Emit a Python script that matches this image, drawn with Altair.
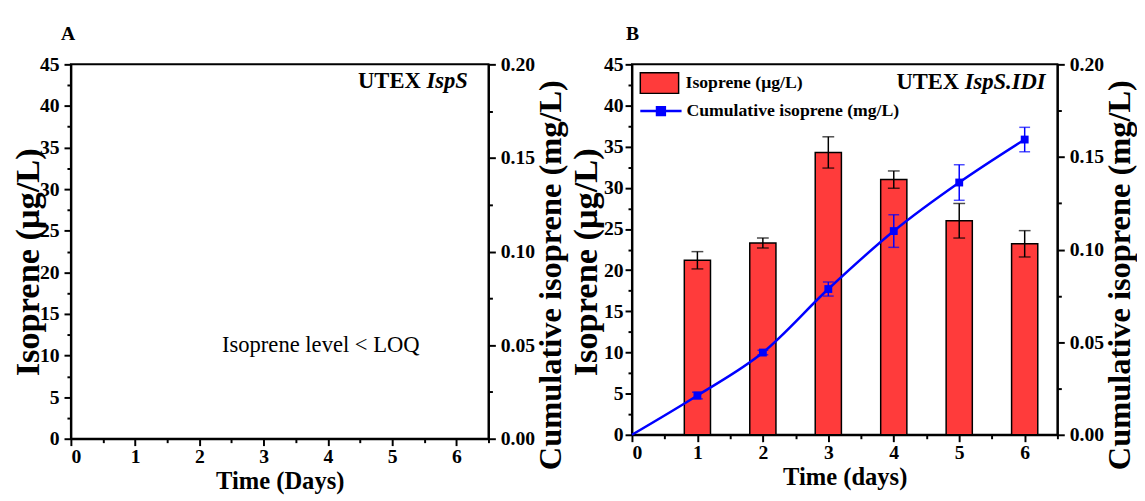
import altair as alt
import pandas as pd

FONT = "Liberation Serif"

# ---- data ----
days = [1, 2, 3, 4, 5, 6]
iso_values = [21.2, 23.3, 34.3, 31.0, 26.0, 23.2]
iso_errors = [1.05, 0.6, 1.9, 1.05, 2.1, 1.6]

cum_days = [0, 1, 2, 3, 4, 5, 6]
cum_values = [0.0, 0.0212, 0.0444, 0.0787, 0.1100, 0.1362, 0.1594]
cum_errors = [0.0, 0.0018, 0.0012, 0.0038, 0.0088, 0.0096, 0.0066]

bar_series = ["Isoprene (\u03bcg/L)"]
line_series = ["Cumulative isoprene (mg/L)"]

x_ticks = [i * 0.5 for i in range(14)]          # 0 .. 6.5
left_ticks = [i * 2.5 for i in range(19)]       # 0 .. 45
right_ticks = [round(i * 0.025, 3) for i in range(9)]  # 0 .. 0.2

loq_text = ["Isoprene level < LOQ"]
loq_x = [3.89]
loq_y = [11.2]

strain_a = ["UTEX", "IspS"]
strain_a_x = [6.18]
strain_a_y = [0.191]
strain_b = ["UTEX", "IspS.IDI"]
strain_b_x = [6.32]
strain_b_y = [42.8]

bars_df = pd.DataFrame({"day": days, "iso": iso_values, "err": iso_errors,
                        "series": bar_series * len(days)})
cum_df = pd.DataFrame({"day": cum_days, "cum": cum_values, "err": cum_errors,
                       "series": line_series * len(cum_days)})

# ---- axis helpers ----
def x_enc(title, field="day"):
    return alt.X(f"{field}:Q",
                 scale=alt.Scale(domain=[0, 6.5], nice=False, zero=False),
                 axis=alt.Axis(values=x_ticks,
                               labelExpr="datum.value % 1 === 0 ? format(datum.value, 'd') : ''",
                               tickSize={"condition": {"test": "datum.value % 1 === 0", "value": 7}, "value": 4},
                               labelFontSize=20, titleFontSize=25, titlePadding=3,
                               labelPadding=1),
                 title=title)

def y_left(field, label_pad=2, title_pad=0):
    return alt.Y(f"{field}:Q",
                 scale=alt.Scale(domain=[0, 45], nice=False, zero=True),
                 axis=alt.Axis(values=left_ticks, orient="left",
                               labelExpr="datum.value % 5 === 0 ? format(datum.value, 'd') : ''",
                               tickSize={"condition": {"test": "datum.value % 5 === 0", "value": 7}, "value": 4},
                               labelFontSize=20, titleFontSize=35, titlePadding=title_pad,
                               labelPadding=label_pad, titleY=201),
                 title="Isoprene (\u03bcg/L)")

def y_right(field):
    return alt.Y(f"{field}:Q",
                 scale=alt.Scale(domain=[0, 0.2], nice=False, zero=True),
                 axis=alt.Axis(values=right_ticks, orient="right",
                               labelExpr="round(datum.value * 1000) % 50 === 0 ? format(datum.value, '.2f') : ''",
                               tickSize={"condition": {"test": "round(datum.value * 1000) % 50 === 0", "value": 7}, "value": 4},
                               labelFontSize=20, titleFontSize=33, titlePadding=0,
                               labelPadding=5, titleAngle=270, titleBaseline="top",
                               titleY=214),
                 title="Cumulative isoprene (mg/L)")

# ---- panel A ----
loq_df = pd.DataFrame({"x": loq_x, "y": loq_y, "t": loq_text})
sa_df = pd.DataFrame({"x": strain_a_x, "y": strain_a_y,
                      "utex": [strain_a[0]], "sp": [strain_a[1]]})

a_left = alt.Chart(loq_df).mark_text(font=FONT, fontSize=23, align="center",
                                     baseline="middle", color="black").encode(
    x=x_enc("Time (Days)", "x"), y=y_left("y", 5, -6), text="t:N")

a_sp = alt.Chart(sa_df).mark_text(font=FONT, fontSize=23, fontWeight="bold",
                                  fontStyle="italic", align="right",
                                  baseline="middle", color="black").encode(
    x=x_enc("Time (Days)", "x"), y=y_right("y"), text="sp:N")
a_ut = alt.Chart(sa_df).mark_text(font=FONT, fontSize=23, fontWeight="bold",
                                  align="right", baseline="middle", dx=-48,
                                  color="black").encode(
    x=x_enc("Time (Days)", "x"), y=y_right("y"), text="utex:N")

panel_a = alt.layer(a_left, alt.layer(a_sp, a_ut)).resolve_scale(y="independent").properties(
    width=425, height=381,
    title=alt.TitleParams("A", anchor="start", frame="group", font=FONT,
                          fontSize=20, fontWeight="bold", dx=-10, offset=11))

# ---- panel B ----
base_b = alt.Chart(bars_df).transform_calculate(
    x0="datum.day - 0.2", x1="datum.day + 0.2",
    lo="datum.iso - datum.err", hi="datum.iso + datum.err")

bars = base_b.mark_bar(stroke="black", strokeWidth=1.5).encode(
    x=x_enc("Time (days)", "x0"), x2="x1:Q", y=y_left("iso"), y2=alt.datum(0),
    fill=alt.Fill("series:N",
                  scale=alt.Scale(domain=bar_series, range=["#FF3B3B"]),
                  legend=alt.Legend(orient="none", legendX=7.5, legendY=-1.5,
                                    title=None, padding=0,
                                    symbolType="M-1,-0.54L1,-0.54L1,0.54L-1,0.54Z",
                                    symbolSize=1521, symbolStrokeColor="black",
                                    symbolStrokeWidth=1.5, symbolOpacity=1,
                                    labelFont=FONT, labelFontSize=18,
                                    labelFontWeight="bold", labelOffset=6,
                                    labelLimit=0, labelColor="black")))
bar_err = base_b.mark_rule(color="black", strokeWidth=1.5).encode(
    x=x_enc("Time (days)", "day"), y=y_left("lo"), y2="hi:Q")
bar_cap_hi = base_b.mark_tick(color="black", orient="horizontal", size=12,
                              thickness=1.5).encode(
    x=x_enc("Time (days)", "day"), y=y_left("hi"))
bar_cap_lo = base_b.mark_tick(color="black", orient="horizontal", size=12,
                              thickness=1.5).encode(
    x=x_enc("Time (days)", "day"), y=y_left("lo"))

sb_df = pd.DataFrame({"x": strain_b_x, "y": strain_b_y,
                      "utex": [strain_b[0]], "sp": [strain_b[1]]})
b_sp = alt.Chart(sb_df).mark_text(font=FONT, fontSize=23, fontWeight="bold",
                                  fontStyle="italic", align="right",
                                  baseline="middle", color="black").encode(
    x=x_enc("Time (days)", "x"), y=y_left("y"), text="sp:N")
b_ut = alt.Chart(sb_df).mark_text(font=FONT, fontSize=23, fontWeight="bold",
                                  align="right", baseline="middle", dx=-88,
                                  color="black").encode(
    x=x_enc("Time (days)", "x"), y=y_left("y"), text="utex:N")

base_c = alt.Chart(cum_df).transform_calculate(
    lo="datum.cum - datum.err", hi="datum.cum + datum.err")

line = base_c.mark_line(strokeWidth=2.5, interpolate="monotone").encode(
    x=x_enc("Time (days)", "day"), y=y_right("cum"),
    stroke=alt.Stroke("series:N",
                      scale=alt.Scale(domain=line_series, range=["#0000FF"]),
                      legend=alt.Legend(orient="none", legendX=7, legendY=25,
                                        title=None, padding=0,
                                        symbolType="M-1,0L1,0M-0.19,-0.19L0.19,-0.19L0.19,0.19L-0.19,0.19Z",
                                        symbolSize=1764, symbolStrokeWidth=2.5,
                                        symbolFillColor="#0000FF", symbolOpacity=1,
                                        labelFont=FONT, labelFontSize=18,
                                        labelFontWeight="bold", labelOffset=3.5,
                                        labelLimit=0, labelColor="black")))
pts_base = base_c.transform_filter("datum.day > 0")
pts = pts_base.mark_square(size=64, color="#0000FF", opacity=1).encode(
    x=x_enc("Time (days)", "day"), y=y_right("cum"))
c_err = pts_base.mark_rule(color="#0000FF", strokeWidth=1.5).encode(
    x=x_enc("Time (days)", "day"), y=y_right("lo"), y2="hi:Q")
c_cap_hi = pts_base.mark_tick(color="#0000FF", orient="horizontal", size=11,
                              thickness=1.5).encode(
    x=x_enc("Time (days)", "day"), y=y_right("hi"))
c_cap_lo = pts_base.mark_tick(color="#0000FF", orient="horizontal", size=11,
                              thickness=1.5).encode(
    x=x_enc("Time (days)", "day"), y=y_right("lo"))

left_group = alt.layer(bars, bar_err, bar_cap_hi, bar_cap_lo, b_sp, b_ut)
right_group = alt.layer(line, c_err, c_cap_hi, c_cap_lo, pts)

panel_b = alt.layer(left_group, right_group).resolve_scale(
    y="independent", fill="independent", stroke="independent").properties(
    width=433, height=377,
    title=alt.TitleParams("B", anchor="start", frame="group", font=FONT,
                          fontSize=20, fontWeight="bold", dx=-6, offset=11))

chart = alt.hconcat(panel_a, panel_b, spacing=0).properties(
    padding={"left": 2, "top": 11, "right": 0, "bottom": 0},
    background="white"
).configure_view(stroke="black", strokeWidth=2).configure_axis(
    grid=False, domainColor="black", domainWidth=2, tickColor="black",
    tickWidth=2, labelFont=FONT, titleFont=FONT, labelFontWeight="bold",
    titleFontWeight="bold", labelColor="black", titleColor="black"
)

chart.save("out.html", embed_options={"renderer": "svg", "actions": False})
